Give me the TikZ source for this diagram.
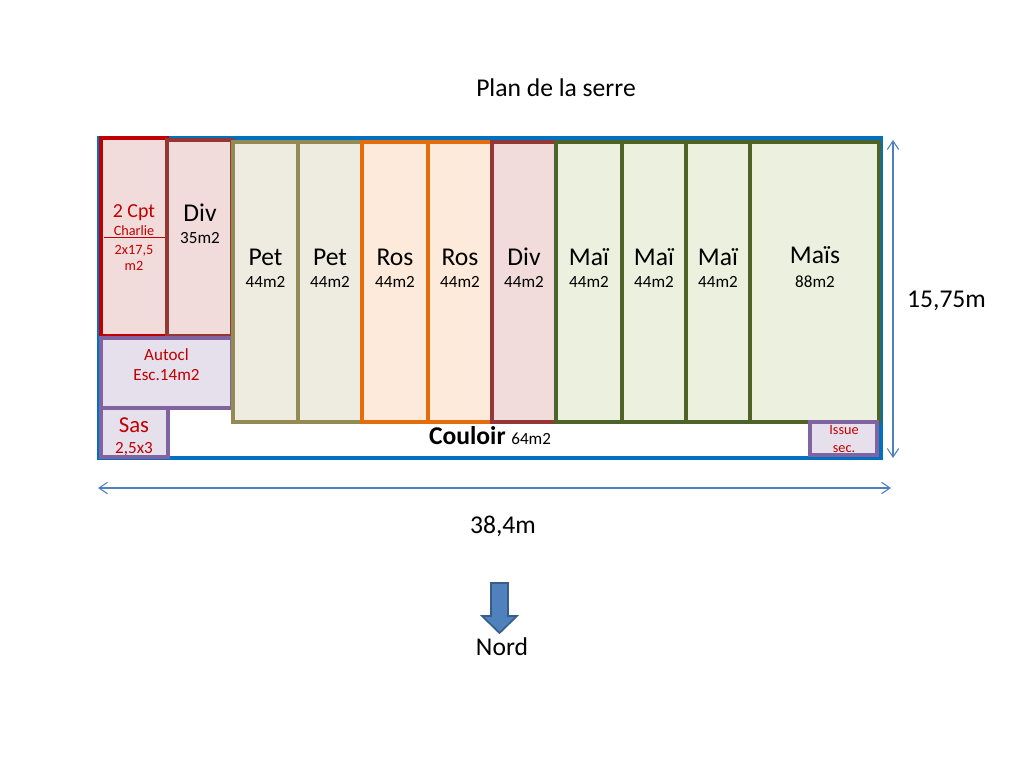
\documentclass[tikz,border=0pt]{standalone}
\usepackage{fontspec}
\setmainfont{Carlito}
\usetikzlibrary{arrows.meta}
\definecolor{serreblue}{HTML}{0070C0}
\definecolor{cptred}{HTML}{C00000}
\definecolor{divred}{HTML}{953735}
\definecolor{divfill}{HTML}{F2DCDB}
\definecolor{servpurple}{HTML}{8064A2}
\definecolor{servfill}{HTML}{E5E0EC}
\definecolor{petolive}{HTML}{948A54}
\definecolor{petfill}{HTML}{EEECE1}
\definecolor{rosorange}{HTML}{E46C0A}
\definecolor{rosfill}{HTML}{FDEADA}
\definecolor{maigreen}{HTML}{4F6228}
\definecolor{maifill}{HTML}{EBF1DE}
\definecolor{dimblue}{HTML}{4F81BD}
\definecolor{nordedge}{HTML}{385D8A}
\begin{document}
\begin{tikzpicture}[x=0.703125pt,y=-0.703125pt,
    zone/.style={line width=2.8pt},
    cptzone/.style={zone,draw=cptred,fill=divfill},
    divzone/.style={zone,draw=divred,fill=divfill},
    servzone/.style={zone,draw=servpurple,fill=servfill},
    petzone/.style={zone,draw=petolive,fill=petfill},
    roszone/.style={zone,draw=rosorange,fill=rosfill},
    maizone/.style={zone,draw=maigreen,fill=maifill},
    lbl/.style={inner sep=0pt,anchor=base},
    txtbig/.style={lbl,font=\fontsize{18}{21}\selectfont},
    txtmid/.style={lbl,font=\fontsize{16}{19}\selectfont},
    txtsmall/.style={lbl,font=\fontsize{12}{14}\selectfont},
    txtmini/.style={lbl,font=\fontsize{10}{12}\selectfont},
    dimline/.style={draw=dimblue,line width=0.75pt,
        {Straight Barb[length=6pt,width=8pt]}-{Straight Barb[length=6pt,width=8pt]}}]
    \useasboundingbox (0,0) rectangle (1024,768);

    \node[txtbig] (titre) at (556,97) {Plan de la serre};

    \draw[serreblue,line width=2.8pt] (99,138) rectangle (881,458);

    \draw[cptzone] (101,138) rectangle (167,336);
    \draw[divzone] (167,140) rectangle (232,336);
    \draw[servzone] (101,338) rectangle (232,408);
    \draw[servzone] (101,408) rectangle (168,457);
    \draw[petzone] (233,142) rectangle (298,422);
    \draw[petzone] (298,142) rectangle (362,422);
    \draw[roszone] (362,142) rectangle (428,422);
    \draw[roszone] (428,142) rectangle (492,422);
    \draw[divzone] (492,142) rectangle (556,422);
    \draw[maizone] (556,142) rectangle (622,422);
    \draw[maizone] (622,142) rectangle (686,422);
    \draw[maizone] (686,142) rectangle (750,422);
    \draw[maizone] (750,142) rectangle (879,422);
    \draw[servzone] (810,422) rectangle (877,455);

    \coordinate (trait1) at (104,237.5);
    \coordinate (trait2) at (165,237.5);
    \draw[cptred,line width=0.75pt] (trait1) -- (trait2);

    \node[lbl,font=\fontsize{14}{17}\selectfont,text=cptred] (cpt) at (134,218) {2 Cpt};
    \node[txtmini,text=cptred] (charlie) at (134,236) {Charlie};
    \node[txtmini,text=cptred] (cptdim) at (134,255) {2x17,5};
    \node[txtmini,text=cptred] (cptm) at (134,271) {m2};
    \node[txtbig] (div1) at (200,222) {Div};
    \node[txtsmall] (div1s) at (200,244) {35m2};
    \node[txtsmall,text=cptred] (autocl) at (166.5,360) {Autocl};
    \node[txtsmall,text=cptred] (autocls) at (166.5,380) {Esc.14m2};
    \node[txtmid,text=cptred] (sas) at (134,432) {Sas};
    \node[txtsmall,text=cptred] (sass) at (134,453) {2,5x3};

    \node[txtbig] (pet1) at (265.5,266) {Pet};
    \node[txtsmall] (pet1s) at (265.5,288) {44m2};
    \node[txtbig] (pet2) at (330,266) {Pet};
    \node[txtsmall] (pet2s) at (330,288) {44m2};
    \node[txtbig] (ros1) at (395,266) {Ros};
    \node[txtsmall] (ros1s) at (395,288) {44m2};
    \node[txtbig] (ros2) at (460,266) {Ros};
    \node[txtsmall] (ros2s) at (460,288) {44m2};
    \node[txtbig] (div2) at (524,266) {Div};
    \node[txtsmall] (div2s) at (524,288) {44m2};
    \node[txtbig] (mai1) at (589,266) {Maï};
    \node[txtsmall] (mai1s) at (589,288) {44m2};
    \node[txtbig] (mai2) at (654,266) {Maï};
    \node[txtsmall] (mai2s) at (654,288) {44m2};
    \node[txtbig] (mai3) at (718,266) {Maï};
    \node[txtsmall] (mai3s) at (718,288) {44m2};
    \node[txtbig] (mais) at (815,264) {Maïs};
    \node[txtsmall] (maiss) at (815,287) {88m2};

    \node[txtbig] (couloir) at (490,444) {\textbf{Couloir} {\fontsize{12}{14}\selectfont 64m2}};
    \node[txtmini,text=cptred] (issue) at (844,434) {Issue};
    \node[txtmini,text=cptred] (issues) at (844,452) {sec.};

    \coordinate (haut) at (893,140);
    \coordinate (bas) at (893,458);
    \draw[dimline] (haut) -- (bas);
    \node[txtbig] (largeur) at (946.5,307) {15,75m};

    \coordinate (ouest) at (98,488);
    \coordinate (est) at (891,488);
    \draw[dimline] (ouest) -- (est);
    \node[txtbig] (longueur) at (503,533) {38,4m};

    \draw[fill=dimblue,draw=nordedge,line width=1.2pt,line join=miter]
        (491,583) -- (508,583) -- (508,616) -- (517,616) -- (499.5,633)
        -- (482,616) -- (491,616) -- cycle;
    \node[txtbig] (nord) at (502,655) {Nord};
\end{tikzpicture}
\end{document}
